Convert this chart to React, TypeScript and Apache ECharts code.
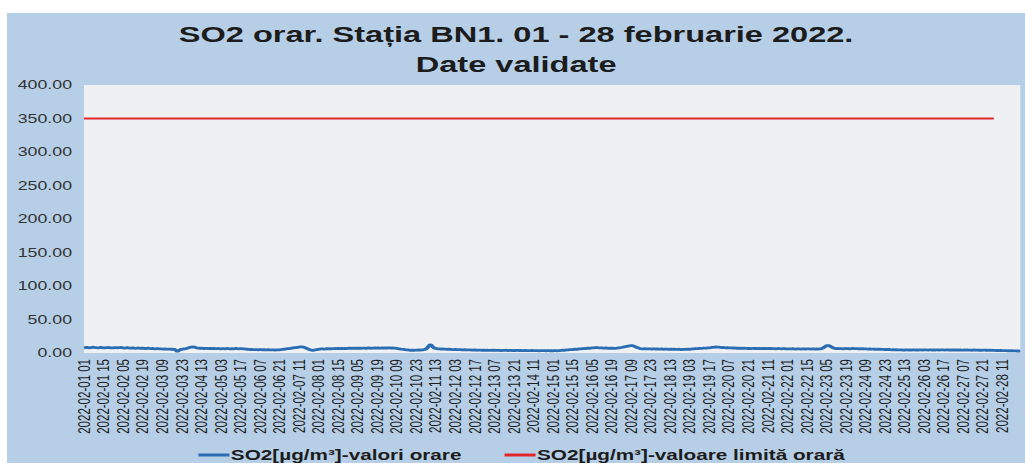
import React, { useEffect, useRef } from "react";
import * as echarts from "echarts";

const TITLE = "SO2 orar. Stația BN1. 01 - 28 februarie 2022.\nDate validate";
const SERIES_NAMES = ["SO2[µg/m³]-valori orare", "SO2[µg/m³]-valoare limită orară"];
const Y_TICKS = [0, 50, 100, 150, 200, 250, 300, 350, 400];
const DAYS = 28;
const HOURS_PER_DAY = 24;
const LIMIT_VALUE = 350;
const LIMIT_POINTS = 653;

// hourly SO2 values, one row per day (hours 01..24)
const D01 = [7.8,8.1,8.4,8.0,7.6,7.9,8.3,8.6,8.2,7.9,7.7,8.0,8.4,8.1,7.8,7.6,7.9,8.2,8.0,7.7,7.5,7.8,8.1,7.9];
const D02 = [7.6,7.9,8.2,8.0,7.7,7.4,7.6,7.9,7.5,7.2,7.4,7.7,7.3,7.0,7.2,7.5,7.1,6.9,7.2,7.0,6.7,6.9,7.1,6.8];
const D03 = [6.6,6.8,6.5,6.3,6.6,6.4,6.1,6.3,6.0,5.8,6.1,5.9,5.7,5.9,5.6,5.8,5.5,5.3,3.8,2.2,3.6,5.0,5.4,5.7];
const D04 = [6.0,6.5,7.2,7.8,8.4,8.9,9.2,8.8,8.1,7.6,7.3,7.0,7.2,6.9,6.7,7.0,6.8,6.6,6.9,6.7,6.5,6.8,6.6,6.4];
const D05 = [6.7,6.5,6.3,6.6,6.4,6.2,6.5,6.7,6.4,6.2,6.5,6.3,6.6,6.8,6.5,6.3,6.6,6.4,6.2,6.0,5.8,5.6,5.4,5.2];
const D06 = [5.3,5.1,4.9,5.2,5.0,4.8,5.1,4.9,4.7,5.0,4.8,4.6,4.9,4.7,4.5,4.8,4.6,4.4,4.7,4.5,4.8,5.0,5.3,5.6];
const D07 = [5.8,6.1,6.4,6.7,7.0,7.3,7.6,7.9,8.2,8.5,8.8,9.0,9.2,8.9,8.3,7.4,6.5,5.6,4.8,4.2,3.9,4.3,4.8,5.2];
const D08 = [5.5,5.8,6.0,6.2,5.9,6.1,6.4,6.2,6.5,6.3,6.6,6.4,6.7,6.5,6.8,6.6,6.9,6.7,6.5,6.8,6.6,6.9,7.1,6.9];
const D09 = [7.1,6.9,7.2,7.0,7.3,7.1,6.9,7.2,7.4,7.2,7.0,7.3,7.5,7.3,7.1,7.4,7.2,7.5,7.3,7.6,7.4,7.2,7.5,7.3];
const D10 = [7.6,7.4,7.7,7.5,7.3,7.6,7.4,7.1,6.8,6.5,6.2,5.9,5.6,5.3,5.0,4.7,4.5,4.3,4.0,4.2,3.9,4.1,4.4,4.2];
const D11 = [4.5,4.3,4.6,4.8,5.2,6.0,7.5,10.0,12.8,11.5,9.0,7.5,6.8,6.4,6.2,6.0,5.8,6.1,5.9,5.7,5.5,5.8,5.6,5.4];
const D12 = [5.2,5.0,5.3,5.1,4.9,5.2,5.0,4.8,4.6,4.9,4.7,4.5,4.8,4.6,4.4,4.2,4.5,4.3,4.1,4.4,4.2,4.0,4.3,4.1];
const D13 = [3.9,4.1,4.0,3.8,4.1,3.9,4.2,4.0,3.8,4.1,3.9,3.7,4.0,3.8,4.1,3.9,3.7,4.0,3.8,3.6,3.9,3.7,4.0,3.8];
const D14 = [3.6,3.9,3.7,3.5,3.8,3.6,3.4,3.7,3.5,3.8,3.6,3.4,3.7,3.5,3.3,3.6,3.4,3.7,3.5,3.3,3.6,3.4,3.2,3.5];
const D15 = [3.3,3.6,3.4,3.2,3.5,3.7,3.9,4.2,4.0,4.4,4.7,4.5,4.9,5.2,5.0,5.4,5.7,5.5,5.9,6.2,6.0,6.4,6.7,6.5];
const D16 = [6.9,7.2,7.0,7.4,7.7,7.5,7.9,8.2,8.0,7.8,7.5,7.7,7.4,7.2,7.5,7.3,7.0,7.2,6.9,7.1,6.8,7.0,7.2,7.5];
const D17 = [7.8,8.2,8.6,9.0,9.5,10.0,10.4,10.8,11.1,11.0,10.5,9.6,8.6,7.7,7.0,6.6,6.3,6.1,6.4,6.2,6.0,6.3,6.1,5.9];
const D18 = [6.2,6.0,5.8,6.1,5.9,5.7,6.0,5.8,5.6,5.9,5.7,5.5,5.8,5.6,5.4,5.7,5.5,5.3,5.6,5.4,5.2,5.5,5.3,5.6];
const D19 = [5.4,5.7,5.5,5.8,6.0,6.2,6.4,6.6,6.5,6.8,7.0,6.9,7.2,7.4,7.3,7.6,7.8,8.0,8.3,8.5,8.8,9.0,8.8,8.6];
const D20 = [8.4,8.1,8.3,8.0,7.8,8.0,7.7,7.5,7.7,7.4,7.6,7.3,7.1,7.3,7.0,7.2,6.9,7.1,6.8,7.0,6.7,6.9,6.6,6.8];
const D21 = [6.9,6.7,6.9,6.6,6.8,6.5,6.7,6.9,6.6,6.8,6.5,6.7,6.9,6.6,6.4,6.6,6.3,6.5,6.7,6.4,6.2,6.4,6.6,6.3];
const D22 = [6.1,6.3,6.0,6.2,6.4,6.1,5.9,6.1,6.3,6.0,5.8,6.0,6.2,5.9,6.1,6.3,6.0,5.8,6.0,6.2,5.9,6.1,5.8,6.0];
const D23 = [6.2,6.8,7.9,9.4,10.6,11.2,10.9,9.8,8.6,7.6,7.0,6.7,6.5,6.7,6.4,6.6,6.3,6.5,6.7,6.4,6.6,6.3,6.5,6.7];
const D24 = [6.6,6.4,6.6,6.3,6.5,6.2,6.4,6.1,6.3,6.0,5.8,6.0,5.7,5.9,5.6,5.8,5.5,5.7,5.4,5.6,5.3,5.5,5.2,5.4];
const D25 = [5.1,5.3,5.0,4.8,5.0,4.7,4.9,4.6,4.8,4.5,4.7,4.4,4.6,4.5,4.7,4.4,4.6,4.3,4.5,4.7,4.4,4.6,4.3,4.5];
const D26 = [4.7,4.4,4.6,4.8,4.5,4.3,4.5,4.7,4.4,4.6,4.3,4.5,4.7,4.4,4.6,4.8,4.5,4.3,4.5,4.7,4.4,4.6,4.3,4.5];
const D27 = [4.6,4.4,4.6,4.3,4.5,4.2,4.4,4.6,4.3,4.5,4.2,4.4,4.1,4.3,4.5,4.2,4.4,4.1,4.3,4.0,4.2,4.4,4.1,4.3];
const D28 = [4.0,4.2,3.9,4.1,3.8,4.0,3.7,3.9,3.6,3.8,3.5,3.7,3.4,3.6,3.3,3.5,3.2,3.4,3.1,3.3,3.0,3.2,2.9,3.1];

const DAY_ROWS = [D01,D02,D03,D04,D05,D06,D07,D08,D09,D10,D11,D12,D13,D14,D15,D16,D17,D18,D19,D20,D21,D22,D23,D24,D25,D26,D27,D28];

const pad = (n: number) => (n < 10 ? "0" + n : "" + n);

const categories: string[] = [];
for (let d = 1; d <= DAYS; d++) {
  for (let h = 1; h <= HOURS_PER_DAY; h++) {
    categories.push(`2022-02-${pad(d)} ${pad(h)}`);
  }
}
const so2Values: number[] = DAY_ROWS.flat();
const limitValues: (number | null)[] = categories.map((_, i) => (i < LIMIT_POINTS ? LIMIT_VALUE : null));

const FONT = "'Liberation Sans', Arial, sans-serif";

// the reference picture is stretched horizontally; reproduce it with a CSS scaleX
const STRETCH = 1.48;
const BOX_W = 1018;
const BOX_H = 450;
const CHART_W = BOX_W / STRETCH;

export default function App() {
  const ref = useRef<HTMLDivElement>(null);
  useEffect(() => {
    if (!ref.current) return;
    const chart = echarts.init(ref.current, undefined, { renderer: "svg" });
    const sx = (v: number) => v / STRETCH;
    chart.setOption({
      animation: false,
      backgroundColor: "transparent",
      textStyle: { fontFamily: FONT },
      title: {
        text: TITLE,
        left: "center",
        top: 6,
        padding: [0, 0, 0, 28],
        textStyle: {
          fontFamily: FONT,
          fontSize: 22,
          fontWeight: "bold",
          lineHeight: 30,
          color: "#1c1c1c",
        },
      },
      legend: {
        data: SERIES_NAMES,
        top: 430,
        left: sx(184),
        itemWidth: sx(31),
        itemHeight: 3,
        itemGap: sx(43),
        icon: "rect",
        textStyle: { fontFamily: FONT, fontSize: 14, fontWeight: "bold", color: "#1c1c1c", padding: [0, 0, 0, -4] },
      },
      grid: {
        left: sx(77),
        right: sx(5),
        top: 72,
        bottom: 110,
        show: true,
        backgroundColor: "#eef0f2",
        borderWidth: 0,
      },
      xAxis: {
        type: "category",
        data: categories,
        boundaryGap: false,
        axisLine: { show: false },
        axisTick: { show: false },
        splitLine: { show: false },
        axisLabel: {
          interval: 13,
          rotate: 90,
          fontSize: 11.5,
          color: "#1e1e1e",
          margin: 6,
          fontFamily: FONT,
        },
      },
      yAxis: {
        type: "value",
        min: 0,
        max: 400,
        interval: 50,
        axisLine: { show: false },
        axisTick: { show: false },
        splitLine: { show: false },
        axisLabel: {
          fontSize: 12,
          color: "#333",
          margin: sx(12),
          fontFamily: FONT,
          formatter: (v: number) => (Y_TICKS.includes(v) ? v.toFixed(2) : ""),
        },
      },
      series: [
        {
          name: SERIES_NAMES[0],
          type: "line",
          data: so2Values,
          symbol: "none",
          lineStyle: { color: "#2a6db2", width: 2.8 },
          itemStyle: { color: "#2a6db2" },
          z: 3,
        },
        {
          name: SERIES_NAMES[1],
          type: "line",
          data: limitValues,
          symbol: "none",
          lineStyle: { color: "#e0262b", width: 2 },
          itemStyle: { color: "#e0262b" },
          z: 2,
        },
      ],
    });
    return () => chart.dispose();
  }, []);
  return (
    <div style={{ position: "absolute", left: 7, top: 13, width: BOX_W, height: BOX_H, background: "#b6cfe7" }}>
      <div
        ref={ref}
        style={{
          width: CHART_W,
          height: BOX_H,
          transform: `scaleX(${STRETCH})`,
          transformOrigin: "0 0",
        }}
      />
    </div>
  );
}
